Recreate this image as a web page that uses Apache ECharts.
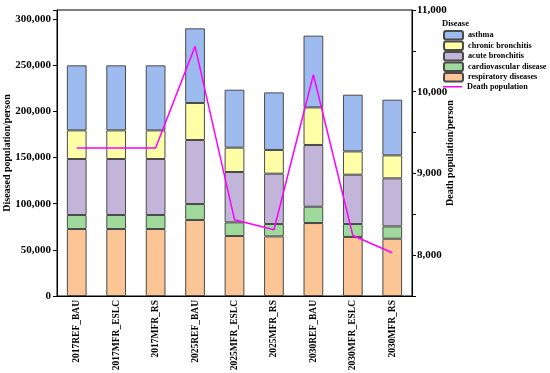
<!DOCTYPE html>
<html>
<head>
<meta charset="utf-8">
<script src="https://cdn.jsdelivr.net/npm/echarts@6/dist/echarts.min.js"></script>
<style>html,body{margin:0;padding:0;background:#fff}#c{width:550px;height:373px}</style>
</head>
<body>
<div id="c"></div>
<script>
const categories = ['2017REF_BAU','2017MFR_ESLC','2017MFR_RS','2025REF_BAU','2025MFR_ESLC','2025MFR_RS','2030REF_BAU','2030MFR_ESLC','2030MFR_RS'];
const respiratory = [72600, 72600, 72600, 82400, 65000, 64600, 79100, 64000, 62100];
const cardiovascular = [15200, 15200, 15200, 17300, 14800, 13400, 17700, 14000, 13300];
const acuteBronchitis = [60700, 60700, 60700, 69400, 54600, 54600, 66900, 53500, 52100];
const chronicBronchitis = [31000, 31000, 31000, 40100, 26400, 25700, 40700, 25200, 24900];
const asthma = [70500, 70500, 70500, 80900, 62800, 62400, 77800, 61500, 60400];
const deathPopulation = [9310, 9310, 9310, 10555, 8434, 8311, 10208, 8241, 8029];

const serif = '"Times New Roman", "Liberation Serif", serif';
const chart = echarts.init(document.getElementById('c'));
const border = {borderColor: '#4a4a4a', borderWidth: 1};
function bar(name, data, color) {
  return {name, type: 'bar', stack: 'd', data, barWidth: '50%', itemStyle: Object.assign({color}, border), emphasis: {disabled: true}};
}
const fmt = v => v.toLocaleString('en-US');
const legendText = {fontFamily: serif, fontSize: 8.2, lineHeight: 8.5, fontWeight: 'bold', color: '#000'};
chart.setOption({
  animation: false,
  title: {text: 'Disease', left: 442, top: 19, padding: 0, textStyle: {fontFamily: serif, fontSize: 8.5, lineHeight: 9, fontWeight: 'bold', color: '#000'}},
  legend: [{
    orient: 'vertical', left: 443, top: 30, padding: 0, itemWidth: 19, itemHeight: 8.5, itemGap: 0,
    textStyle: legendText,
    data: ['asthma','chronic bronchitis','acute bronchitis','cardiovascular disease','respiratory diseases']
  }, {
    orient: 'vertical', left: 443, top: 82.5, padding: 0, itemWidth: 19, itemHeight: 1.5, icon: 'rect',
    textStyle: legendText,
    data: ['Death population']
  }],
  grid: {left: 57, right: 138, top: 10, bottom: 77, outerBoundsMode: 'none', containLabel: false, show: true, borderColor: '#000', borderWidth: 1},
  xAxis: {
    type: 'category', data: categories,
    axisLine: {lineStyle: {color: '#000', width: 1}},
    axisTick: {show: false},
    axisLabel: {rotate: 90, margin: 4, fontFamily: serif, fontSize: 9.5, fontWeight: 'bold', color: '#000', interval: 0}
  },
  yAxis: [{
    type: 'value', min: 0, max: 310000, interval: 50000,
    name: 'Diseased population/person', nameLocation: 'middle', nameRotate: 90, nameGap: 45, nameMoveOverlap: false,
    nameTextStyle: {fontFamily: serif, fontSize: 10, fontWeight: 'bold', color: '#000'},
    axisLine: {show: true, lineStyle: {color: '#000'}},
    axisTick: {show: true, inside: false, length: 4, lineStyle: {color: '#000'}},
    splitLine: {show: false},
    axisLabel: {margin: 6, fontFamily: serif, fontSize: 11, fontWeight: 'bold', color: '#000',
      formatter: v => (v % 50000 === 0 ? fmt(v) : '')}
  }, {
    type: 'value', min: 7500, max: 11000, interval: 500,
    name: 'Death population/person', nameLocation: 'middle', nameRotate: 90, nameGap: 33, nameMoveOverlap: false,
    nameTextStyle: {fontFamily: serif, fontSize: 10, fontWeight: 'bold', color: '#000'},
    axisLine: {show: true, lineStyle: {color: '#000'}},
    axisTick: {show: true, inside: false, length: 4, lineStyle: {color: '#000'}},
    splitLine: {show: false},
    axisLabel: {margin: 5, fontFamily: serif, fontSize: 11, fontWeight: 'bold', color: '#000',
      formatter: v => (v % 1000 === 0 && v >= 8000 ? fmt(v) : '')}
  }],
  series: [
    bar('respiratory diseases', respiratory, '#fbc596'),
    bar('cardiovascular disease', cardiovascular, '#a0d99c'),
    bar('acute bronchitis', acuteBronchitis, '#c3b5d9'),
    bar('chronic bronchitis', chronicBronchitis, '#ffffa8'),
    bar('asthma', asthma, '#9ebbf0'),
    {name: 'Death population', type: 'line', yAxisIndex: 1, data: deathPopulation, symbol: 'none',
      lineStyle: {color: '#ff00ff', width: 1.5}, itemStyle: {color: '#ff00ff'}, z: 5}
  ]
});
</script>
</body>
</html>
